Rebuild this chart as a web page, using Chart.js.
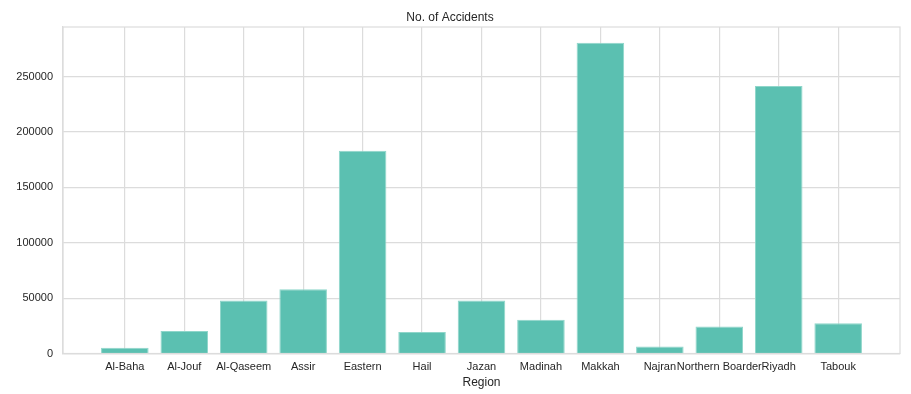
<!DOCTYPE html>
<html>
<head>
<meta charset="utf-8">
<script src="https://cdn.jsdelivr.net/npm/chart.js@4"></script>
<style>
  html, body { margin: 0; padding: 0; background: #fff; }
  #wrap { width: 911px; height: 394px; }
</style>
</head>
<body>
<div id="wrap"><canvas id="myChart"></canvas></div>
<script>
"use strict"

// data
const regions = ['Al-Baha', 'Al-Jouf', 'Al-Qaseem', 'Assir', 'Eastern', 'Hail', 'Jazan',
    'Madinah', 'Makkah', 'Najran', 'Northern Boarder', 'Riyadh', 'Tabouk'];
const accidents = [5200, 20200, 47900, 57900, 182900, 19300, 47900,
    30400, 280500, 6300, 24400, 241500, 27400];
const yTicks = [0, 50000, 100000, 150000, 200000, 250000];

const textColor = '#262626';
const gridColor = '#dcdcdc';

// draws the top and right spines like matplotlib
const frame = {
    id: 'frame',
    afterDraw(chart) {
        const a = chart.chartArea;
        const ctx = chart.ctx;
        ctx.save();
        ctx.strokeStyle = gridColor;
        ctx.lineWidth = 1.2;
        ctx.strokeRect(a.left, a.top, a.right - a.left, a.bottom - a.top);
        ctx.restore();
    }
};

const data = {
    datasets: [{
        label: 'No. of Accidents',
        data: regions.map((r, i) => ({ x: i, y: accidents[i] })),
        backgroundColor: '#5bc0b1',
        borderColor: '#8fd6ca',
        borderWidth: 1,
        barPercentage: 0.8,
        categoryPercentage: 1
    }]
};

const config = {
    type: 'bar',
    data: data,
    options: {
        responsive: true,
        maintainAspectRatio: false,
        animation: false,
        layout: { padding: { left: 0, right: 11, top: 0, bottom: 0 } },
        plugins: {
            legend: { display: false },
            tooltip: { enabled: false },
            title: {
                display: true,
                text: 'No. of Accidents',
                color: textColor,
                font: { family: 'Liberation Sans, Arial, sans-serif', size: 12, weight: 'normal' },
                padding: { top: 10, bottom: 2.6 }
            }
        },
        scales: {
            x: {
                type: 'linear',
                min: -1.04,
                max: 13.04,
                offset: false,
                afterBuildTicks: (scale) => {
                    scale.ticks = regions.map((r, i) => ({ value: i }));
                },
                afterFit: (scale) => { scale.height = 40.5; },
                ticks: {
                    autoSkip: false,
                    maxRotation: 0,
                    minRotation: 0,
                    padding: 7,
                    color: textColor,
                    font: { family: 'Liberation Sans, Arial, sans-serif', size: 11 },
                    callback: (v) => regions[v] ?? ''
                },
                grid: { color: gridColor, lineWidth: 1.2, drawTicks: false, offset: false },
                border: { display: true, color: gridColor, width: 1.2 },
                title: {
                    display: true,
                    text: 'Region',
                    color: textColor,
                    font: { family: 'Liberation Sans, Arial, sans-serif', size: 12 },
                    padding: { top: 0, bottom: 4 }
                }
            },
            y: {
                min: 0,
                max: 294700,
                afterBuildTicks: (scale) => {
                    scale.ticks = yTicks.map(v => ({ value: v }));
                },
                afterFit: (scale) => { scale.width = 63; },
                ticks: {
                    padding: 10,
                    color: textColor,
                    font: { family: 'Liberation Sans, Arial, sans-serif', size: 11 },
                    callback: (v) => String(v)
                },
                grid: { color: gridColor, lineWidth: 1.2, drawTicks: false },
                border: { display: true, color: gridColor, width: 1.2 }
            }
        }
    },
    plugins: [frame]
};

let myChart = new Chart(document.getElementById('myChart'), config);
</script>
</body>
</html>
